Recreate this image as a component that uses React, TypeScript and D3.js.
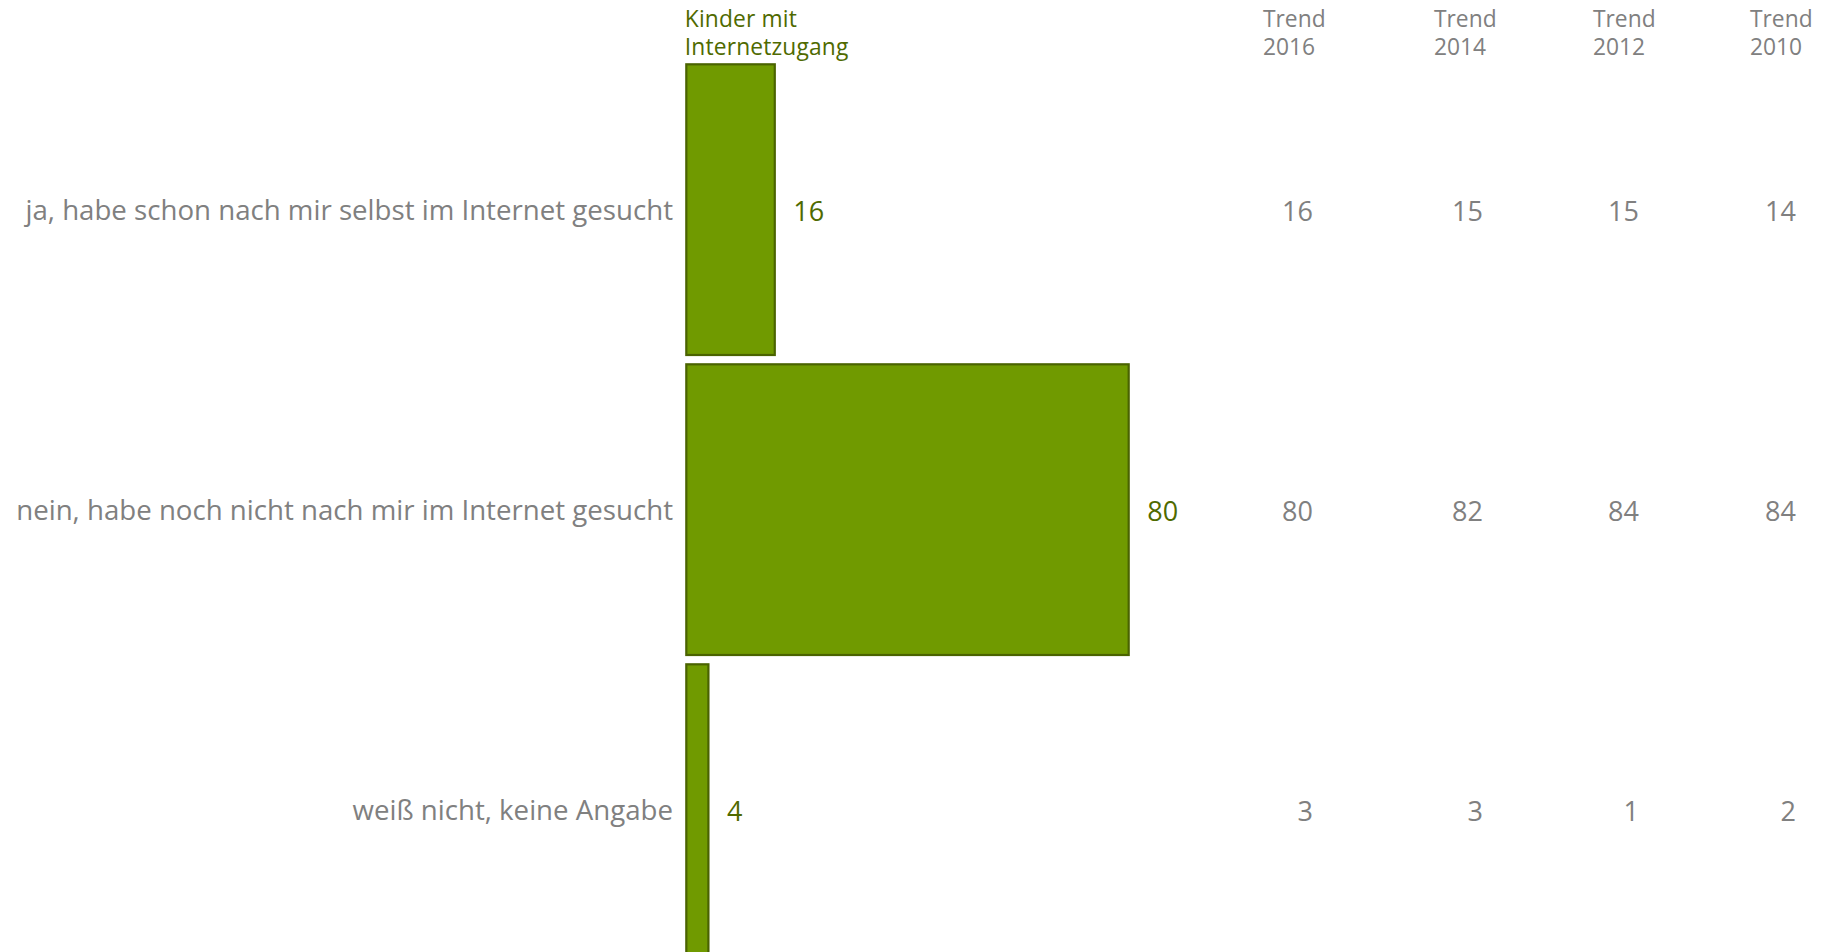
import React from "react";
import * as d3 from "d3";

const categories = [
  "ja, habe schon nach mir selbst im Internet gesucht",
  "nein, habe noch nicht nach mir im Internet gesucht",
  "weiß nicht, keine Angabe",
];
const mainSeriesTitle = ["Kinder mit", "Internetzugang"];
const mainValues = [16, 80, 4];

const trendYears = ["2016", "2014", "2012", "2010"];
const trend2016 = [16, 80, 3];
const trend2014 = [15, 82, 3];
const trend2012 = [15, 84, 1];
const trend2010 = [14, 84, 2];
const trendSeries = [trend2016, trend2014, trend2012, trend2010];

const W = 1825;
const H = 952;
const FONT = "'Open Sans', 'Noto Sans', sans-serif";
const GREY = "#808080";
const GREEN_TEXT = "#4f6a00";
const BAR_FILL = "#709a00";
const BAR_STROKE = "#4a6300";

// layout of trend columns (value right edges, header left edges)
const trendValueRight = [1313, 1483, 1639, 1796];
const trendHeaderLeft = [1263, 1434, 1593, 1750];

export default function App() {
  const x = d3.scaleLinear().domain([0, 100]).range([686.3, 686.3 + 553]);
  const y = d3
    .scaleBand<string>()
    .domain(categories)
    .range([59.65, 959.65])
    .paddingInner(0.031)
    .paddingOuter(0.0155);

  return (
    <svg
      width={W}
      height={H}
      style={{ position: "absolute", left: 0, top: 0, background: "#fff" }}
      fontFamily={FONT}
    >
      {/* main series header */}
      <text fill={GREEN_TEXT} fontSize={22.8} letterSpacing={0.15}>
        {mainSeriesTitle.map((t, i) => (
          <tspan key={t} x={x(0) - 1.5} y={27 + i * 27.5}>
            {t}
          </tspan>
        ))}
      </text>

      {/* trend headers */}
      <g fill={GREY} fontSize={22.8}>
        {trendYears.map((yr, i) => (
          <text key={yr} x={trendHeaderLeft[i]}>
            <tspan x={trendHeaderLeft[i]} y={27}>
              Trend
            </tspan>
            <tspan x={trendHeaderLeft[i]} y={54.5}>
              {yr}
            </tspan>
          </text>
        ))}
      </g>

      {/* category labels */}
      <g fill={GREY} fontSize={27.65} textAnchor="end">
        {categories.map((c) => (
          <text key={c} x={673} y={(y(c) as number) + y.bandwidth() / 2 + 10.5}>
            {c}
          </text>
        ))}
      </g>

      {/* bars */}
      <g>
        {categories.map((c, i) => (
          <rect
            key={c}
            x={x(0)}
            y={y(c)}
            width={x(mainValues[i]) - x(0)}
            height={y.bandwidth()}
            fill={BAR_FILL}
            stroke={BAR_STROKE}
            strokeWidth={2.2}
          />
        ))}
      </g>

      {/* bar value labels */}
      <g fill={GREEN_TEXT} fontSize={27}>
        {categories.map((c, i) => (
          <text
            key={c}
            x={x(mainValues[i]) + 18.5}
            y={(y(c) as number) + y.bandwidth() / 2 + 11}
          >
            {mainValues[i]}
          </text>
        ))}
      </g>

      {/* trend values */}
      <g fill={GREY} fontSize={27} textAnchor="end">
        {trendSeries.map((series, j) =>
          categories.map((c, i) => (
            <text
              key={j + "-" + i}
              x={trendValueRight[j]}
              y={(y(c) as number) + y.bandwidth() / 2 + 11}
            >
              {series[i]}
            </text>
          ))
        )}
      </g>
    </svg>
  );
}
